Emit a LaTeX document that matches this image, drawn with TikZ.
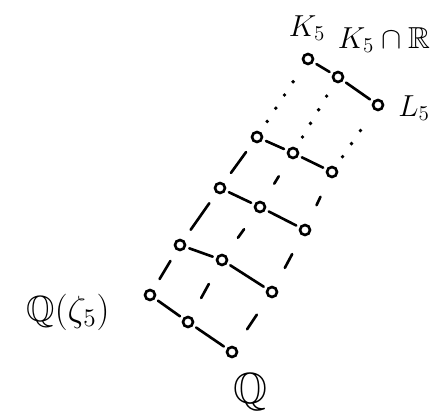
\documentclass[tikz,border=0pt]{standalone}
\usepackage{amsmath,amssymb}
\usepackage{tikz}
\usetikzlibrary{positioning}

\begin{document}
\begin{tikzpicture}[
  x=0.02cm, y=-0.02cm,
  line width=1.5pt, line cap=round,
  field/.style={draw, circle, minimum size=0.2cm, inner sep=0pt, line width=1.5pt},
  incl/.style={shorten <=2pt, shorten >=2pt},
  chain/.style={shorten <=7pt, shorten >=7pt},
  gapped/.style={shorten <=0.42cm, shorten >=0.42cm},
  far/.style={line width=2.2pt, dash pattern=on 0pt off 9pt, shorten <=7pt, shorten >=6pt},
  lab/.style={font=\LARGE, inner sep=1pt}
]
\useasboundingbox (0,0) rectangle (444,412);

% fields, columns l / m / r, rows 1 (top) to 5 (bottom)
\node[field] (l1) at (308,59) {};
\node[field] (m1) at (338,77) {};
\node[field] (r1) at (378,105) {};
\node[field] (l2) at (257,137) {};
\node[field] (m2) at (293,153) {};
\node[field] (r2) at (332,172) {};
\node[field] (l3) at (220,188) {};
\node[field] (m3) at (260,207) {};
\node[field] (r3) at (305,230) {};
\node[field] (l4) at (180,245) {};
\node[field] (m4) at (222,260) {};
\node[field] (r4) at (272,292) {};
\node[field] (l5) at (150,295) {};
\node[field] (m5) at (188,322) {};
\node[field] (r5) at (232,352) {};

\draw[incl] (l1) -- (m1);
\draw[incl] (m1) -- (r1);
\draw[incl] (l2) -- (m2);
\draw[incl] (m2) -- (r2);
\draw[incl] (l3) -- (m3);
\draw[incl] (m3) -- (r3);
\draw[incl] (l4) -- (m4);
\draw[incl] (m4) -- (r4);
\draw[incl] (l5) -- (m5);
\draw[incl] (m5) -- (r5);

\draw[chain] (l5) -- (l4);
\draw[chain] (l4) -- (l3);
\draw[chain] (l3) -- (l2);
\draw[far] (l2) -- (l1);
\draw[gapped] (m5) -- (m4);
\draw[gapped] (m4) -- (m3);
\draw[gapped] (m3) -- (m2);
\draw[far] (m2) -- (m1);
\draw[gapped] (r5) -- (r4);
\draw[gapped] (r4) -- (r3);
\draw[gapped] (r3) -- (r2);
\draw[far] (r2) -- (r1);

\node[lab] (klab) at (307,28) {$K_5$};
\node[lab] (krlab) at (384,40) {$K_5\cap\mathbb{R}$};
\node[lab] (llab) at (414,108) {$L_5$};
\node[lab,font=\huge] (zlab) at (68,312) {$\mathbb{Q}(\zeta_5)$};
\node[lab,font=\Huge] (qlab) at (250,392) {$\mathbb{Q}$};
\end{tikzpicture}
\end{document}
